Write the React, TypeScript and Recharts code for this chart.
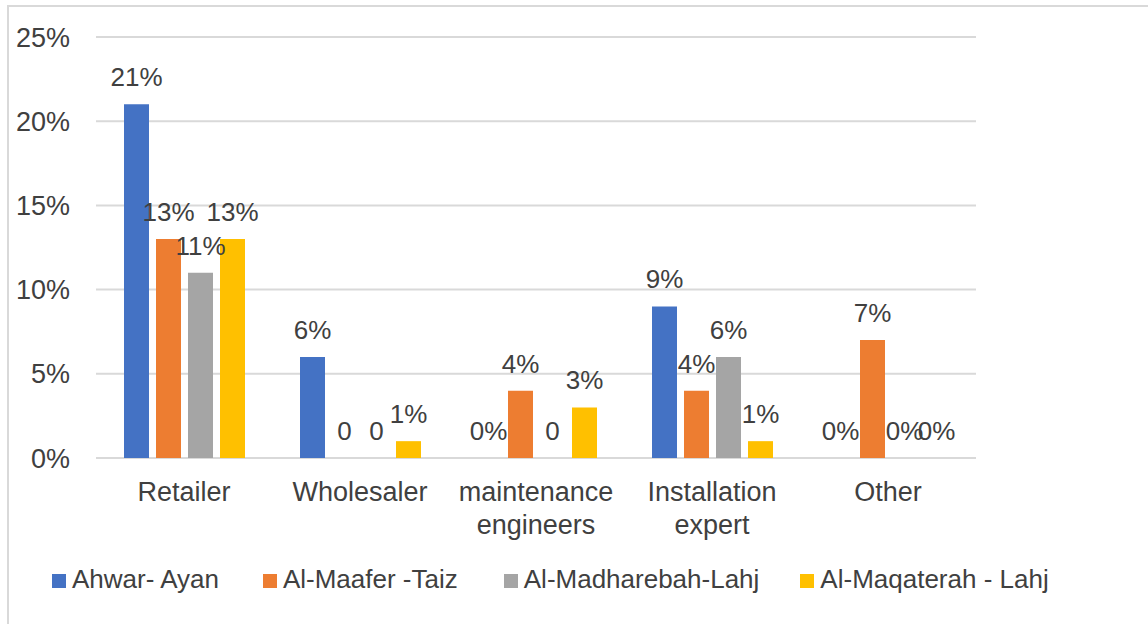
import React from 'react';
import { BarChart, Bar, XAxis, YAxis, CartesianGrid, LabelList, Legend } from 'recharts';

const categories = ['Retailer', 'Wholesaler', 'maintenance\nengineers', 'Installation\nexpert', 'Other'];
const seriesNames = ['Ahwar- Ayan', 'Al-Maafer -Taiz', 'Al-Madharebah-Lahj', 'Al-Maqaterah - Lahj'];
const ahwarAyan = [21, 6, 0, 9, 0];
const alMaafer = [13, 0, 4, 4, 7];
const alMadharebah = [11, 0, 0, 6, 0];
const alMaqaterah = [13, 1, 3, 1, 0];
const ahwarLabels = ['21%', '6%', '0%', '9%', '0%'];
const maaferLabels = ['13%', '0', '4%', '4%', '7%'];
const madharebahLabels = ['11%', '0', '0', '6%', '0%'];
const maqaterahLabels = ['13%', '1%', '3%', '1%', '0%'];
const yTicks = [0, 5, 10, 15, 20, 25];
const colors = ['#4472C4', '#ED7D31', '#A5A5A5', '#FFC000'];

const data = categories.map((category, i) => ({
  category,
  s0: ahwarAyan[i],
  s1: alMaafer[i],
  s2: alMadharebah[i],
  s3: alMaqaterah[i],
  l0: ahwarLabels[i],
  l1: maaferLabels[i],
  l2: madharebahLabels[i],
  l3: maqaterahLabels[i],
}));

const FONT = '"Liberation Sans", Arial, sans-serif';
const TEXT = '#404040';

const CategoryTick = (props: any) => {
  const { x, y, payload } = props;
  const lines = String(payload.value).split('\n');
  return (
    <text x={x} y={y} textAnchor="middle" fill={TEXT} fontSize={27} fontFamily={FONT}>
      {lines.map((l, i) => (
        <tspan key={i} x={x} y={y + 43 + i * 33}>
          {l}
        </tspan>
      ))}
    </text>
  );
};

const legendGaps = [44, 46, 41, 0];

const renderLegend = () => (
  <div
    style={{
      display: 'flex',
      alignItems: 'center',
      height: 50,
      fontFamily: FONT,
      fontSize: 26,
      color: TEXT,
      whiteSpace: 'nowrap',
    }}
  >
    {seriesNames.map((n, i) => (
      <div key={n} style={{ display: 'flex', alignItems: 'center', marginRight: legendGaps[i] }}>
        <span style={{ display: 'inline-block', width: 14, height: 14, background: colors[i], marginRight: 6, marginTop: 3 }} />
        <span>{n}</span>
      </div>
    ))}
  </div>
);

export default function App() {
  return (
    <div style={{ position: 'absolute', left: 0, top: 0, width: 1148, height: 624, overflow: 'hidden', background: '#fff' }}>
      <div
        style={{
          position: 'absolute',
          left: 7,
          top: 5,
          right: -10,
          bottom: -10,
          borderLeft: '2px solid #d9d9d9',
          borderTop: '2px solid #d9d9d9',
        }}
      />
      <div style={{ position: 'absolute', left: 0, top: 0 }}>
        <BarChart
          width={1148}
          height={624}
          data={data}
          margin={{ top: 37, right: 172, bottom: 20, left: 0 }}
          barSize={25}
          barGap={7}
        >
          <CartesianGrid vertical={false} stroke="#d9d9d9" strokeWidth={2} />
          <XAxis
            dataKey="category"
            interval={0}
            axisLine={false}
            tickLine={false}
            tickSize={0}
            tickMargin={0}
            height={96}
            tick={<CategoryTick />}
          />
          <YAxis
            width={96}
            domain={[0, 25]}
            ticks={yTicks}
            axisLine={false}
            tickLine={false}
            tickSize={0}
            tickMargin={26}
            tickFormatter={(v: number) => `${v}%`}
            tick={{ fill: TEXT, fontSize: 27, fontFamily: FONT }}
          />
          <Legend
            verticalAlign="bottom"
            align="left"
            content={renderLegend}
            wrapperStyle={{ left: 52, bottom: 20, width: 'auto', height: 50 }}
          />
          {[0, 1, 2, 3].map((i) => (
            <Bar
              key={i}
              dataKey={`s${i}`}
              name={seriesNames[i]}
              fill={colors[i]}
              minPointSize={0.01}
              isAnimationActive={false}
            >
              <LabelList dataKey={`l${i}`} position="top" offset={18} fill={TEXT} fontSize={26} fontFamily={FONT} />
            </Bar>
          ))}
        </BarChart>
      </div>
    </div>
  );
}
